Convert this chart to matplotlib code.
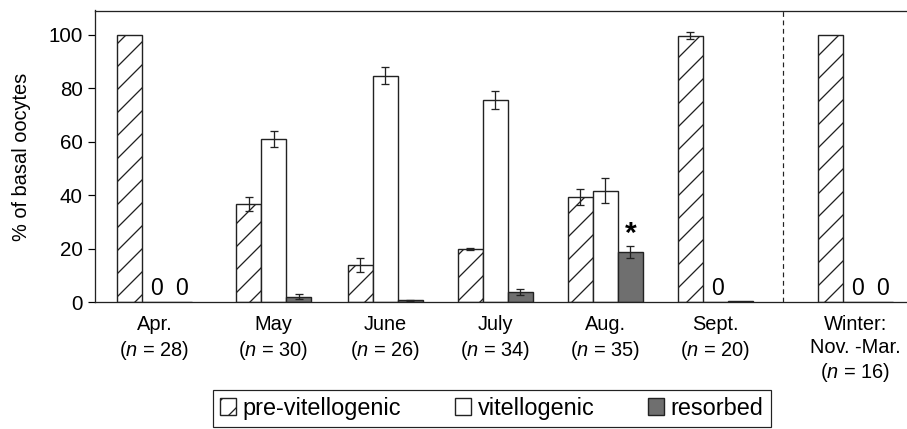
import numpy as np
import matplotlib
matplotlib.use("Agg")
import matplotlib.pyplot as plt

# valeurs (% des ovocytes basaux)
mois = ["Apr.\n($n$ = 28)", "May\n($n$ = 30)", "June\n($n$ = 26)", "July\n($n$ = 34)",
        "Aug.\n($n$ = 35)", "Sept.\n($n$ = 20)", "Winter:\nNov. -Mar.\n($n$ = 16)"]
pre_vit = [100, 36.7, 13.9, 19.9, 39.2, 99.6, 100]
pre_vit_err = [0, 2.5, 2.6, 0.3, 3.0, 1.4, 0]
vit = [0, 61.1, 84.7, 75.6, 41.7, 0, 0]
vit_err = [0, 3.0, 3.2, 3.5, 4.7, 0, 0]
resorb = [0, 2.1, 0.7, 3.8, 18.8, 0.4, 0]
resorb_err = [0, 0.9, 0.3, 1.0, 2.2, 0, 0]
signif = [False, False, False, False, True, False, False]
noms = ['pre-vitellogenic', 'vitellogenic', 'resorbed']

DPI = 138
PT = 72 / DPI  # px -> pt

plt.rcParams['font.family'] = ['Liberation Sans', 'DejaVu Sans']
plt.rcParams['mathtext.fontset'] = 'custom'
plt.rcParams['mathtext.rm'] = 'Liberation Sans'
plt.rcParams['mathtext.it'] = 'Liberation Sans:italic'
plt.rcParams['hatch.linewidth'] = 1.3 * PT

fig = plt.figure(figsize=(907 / DPI, 429 / DPI), dpi=DPI)
ax = fig.add_axes([95 / 907, 1 - 302.3 / 429, 1 - 95 / 907, (302.3 - 10.5) / 429])

# positions des groupes (centre de la barre du milieu)
pos = np.array([0.541, 1.623, 2.64, 3.64, 4.64, 5.64, 6.914])
w = 0.227
fs = 20 * PT

series = [(pre_vit, pre_vit_err, -w, dict(facecolor='white', hatch='//')),
          (vit, vit_err, 0, dict(facecolor='white')),
          (resorb, resorb_err, w, dict(facecolor='#6f6f6f'))]
handles = []
for vals, errs, dx, style in series:
    vals = np.array(vals, float)
    errs = np.array(errs, float)
    b = ax.bar(pos + dx, vals, w, edgecolor='#222222', linewidth=1.4 * PT, **style)
    handles.append(b)
    m = errs > 0
    ax.errorbar(pos[m] + dx, vals[m], yerr=errs[m], fmt='none', ecolor='#222222',
                elinewidth=1.3 * PT, capsize=4.5 * PT, capthick=1.3 * PT)
    for x, v in zip(pos + dx, vals):
        if v == 0:
            ax.text(x + 0.02, 2.7, "0", ha='center', va='baseline', fontsize=23 * PT)

for x, v, e, s in zip(pos + w, resorb, resorb_err, signif):
    if s:
        ax.text(x, v + e + 4.5, "*", ha='center', va='center', fontsize=30 * PT, fontweight='bold')

ax.axvline(6.255, color='#222222', linestyle=(0, (4, 3)), linewidth=1.2 * PT)

ax.set_xlim(0, 812 / 110)
ax.set_ylim(0, 109)
ax.set_yticks(range(0, 101, 20))
ax.set_xticks(pos)
ax.set_xticklabels(mois, fontsize=fs, linespacing=1.25)
ax.tick_params(axis='x', length=0, pad=13 * PT)
ax.tick_params(axis='y', length=7 * PT, width=1.2 * PT, pad=5 * PT, labelsize=20.5 * PT)
ax.set_ylabel("% of basal oocytes", fontsize=fs, labelpad=18 * PT)
ax.spines['right'].set_visible(False)
for sp in ['left', 'bottom', 'top']:
    ax.spines[sp].set_linewidth(1.3 * PT)
    ax.spines[sp].set_color('#222222')

leg = fig.legend(handles=handles, labels=noms,
                 loc='center', bbox_to_anchor=(492 / 907, 1 - 408.5 / 429), ncol=3,
                 fontsize=23.5 * PT, frameon=True, fancybox=False, framealpha=1,
                 edgecolor='#222222', handlelength=0.65, handleheight=0.75,
                 handletextpad=0.3, columnspacing=2.3, borderpad=0.3)
leg.get_frame().set_linewidth(1.2 * PT)

fig.savefig("out.png", dpi=DPI)
